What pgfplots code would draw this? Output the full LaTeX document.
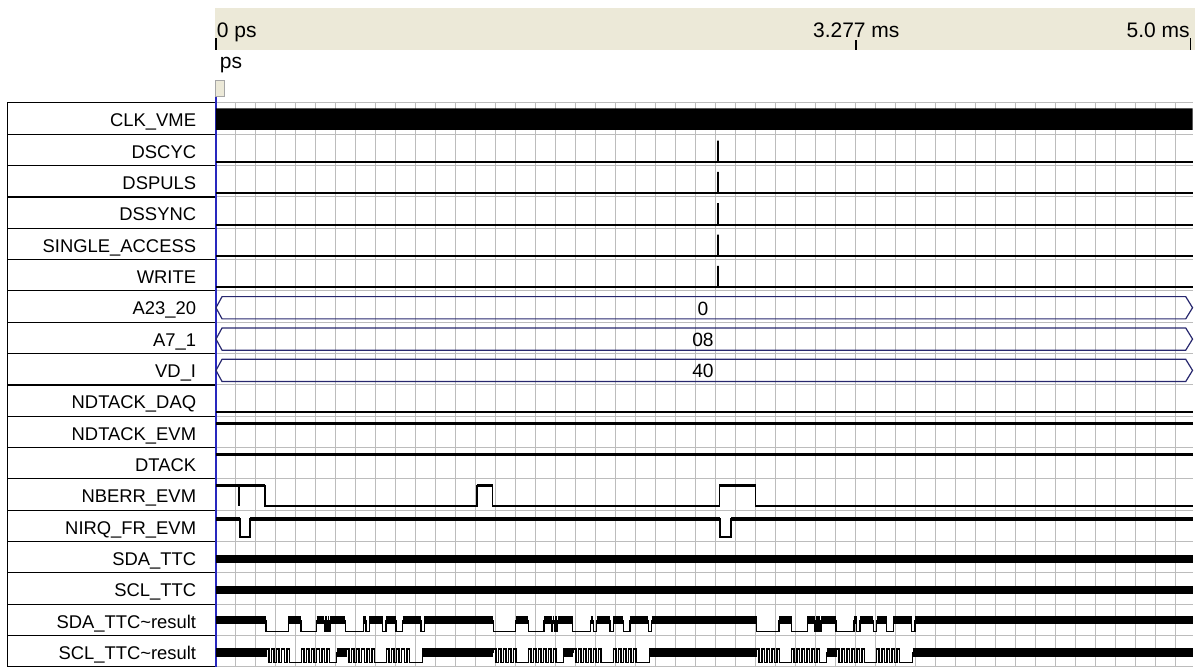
\documentclass[border=0pt]{standalone}
\usepackage{pgfplots}
\pgfplotsset{compat=1.18}
\usepackage{fontspec}
\setmainfont{Liberation Sans}
\definecolor{ruler}{RGB}{236,233,216}
\definecolor{busnavy}{RGB}{40,40,110}
\definecolor{leftblue}{RGB}{40,40,190}
\definecolor{gridgray}{RGB}{188,188,188}
\newcommand\lab{\fontsize{9.2}{11}\selectfont}
\newcommand\rul{\fontsize{10.5}{12}\selectfont}
\begin{document}
\begin{tikzpicture}
\begin{axis}[
  scale only axis, width=488.3pt, height=282pt,
  xmin=0, xmax=5.0, ymin=0, ymax=18,
  clip=false,
  axis line style={draw=none},
  tick style={draw=none},
  xtick={0,0.1024,...,4.95}, ytick={0,1,...,18},
  xticklabels={}, yticklabels={},
  grid=major, grid style={gridgray, line width=0.5pt},
  unbounded coords=jump,
  line cap=butt,
]
% ---- label panel
\fill[white] (axis cs:-1.065,0) rectangle (axis cs:-0.005,18);
\draw[black, line width=0.5pt] (axis cs:-1.065,0) rectangle (axis cs:-0.005,18);
\draw[black, line width=0.5pt]
  (axis cs:-1.065,1) -- (axis cs:-0.005,1) (axis cs:-1.065,2) -- (axis cs:-0.005,2)
  (axis cs:-1.065,3) -- (axis cs:-0.005,3) (axis cs:-1.065,4) -- (axis cs:-0.005,4)
  (axis cs:-1.065,5) -- (axis cs:-0.005,5) (axis cs:-1.065,6) -- (axis cs:-0.005,6)
  (axis cs:-1.065,7) -- (axis cs:-0.005,7) (axis cs:-1.065,8) -- (axis cs:-0.005,8)
  (axis cs:-1.065,10) -- (axis cs:-0.005,10) (axis cs:-1.065,11) -- (axis cs:-0.005,11)
  (axis cs:-1.065,12) -- (axis cs:-0.005,12) (axis cs:-1.065,13) -- (axis cs:-0.005,13)
  (axis cs:-1.065,14) -- (axis cs:-0.005,14) (axis cs:-1.065,16) -- (axis cs:-0.005,16)
  (axis cs:-1.065,17) -- (axis cs:-0.005,17);
\draw[black, line width=1pt] (axis cs:-1.065,9) -- (axis cs:-0.005,9) (axis cs:-1.065,15) -- (axis cs:-0.005,15);
\begin{scope}[every node/.style={anchor=base east, inner sep=0pt, font=\lab}]
\node at (axis cs:-0.0998,17.236) {CLK\_VME};
\node at (axis cs:-0.0998,16.236) {DSCYC};
\node at (axis cs:-0.0998,15.236) {DSPULS};
\node at (axis cs:-0.0998,14.236) {DSSYNC};
\node at (axis cs:-0.0998,13.236) {SINGLE\_ACCESS};
\node at (axis cs:-0.0998,12.236) {WRITE};
\node at (axis cs:-0.0998,11.236) {A23\_20};
\node at (axis cs:-0.0998,10.236) {A7\_1};
\node at (axis cs:-0.0998,9.236) {VD\_I};
\node at (axis cs:-0.0998,8.236) {NDTACK\_DAQ};
\node at (axis cs:-0.0998,7.236) {NDTACK\_EVM};
\node at (axis cs:-0.0998,6.236) {DTACK};
\node at (axis cs:-0.0998,5.236) {NBERR\_EVM};
\node at (axis cs:-0.0998,4.236) {NIRQ\_FR\_EVM};
\node at (axis cs:-0.0998,3.236) {SDA\_TTC};
\node at (axis cs:-0.0998,2.236) {SCL\_TTC};
\node at (axis cs:-0.0998,1.236) {SDA\_TTC\textasciitilde result};
\node at (axis cs:-0.0998,0.236) {SCL\_TTC\textasciitilde result};
\end{scope}
\draw[leftblue, line width=0.9pt] (axis cs:0,0) -- (axis cs:0,18.22);
% ---- time ruler
\fill[ruler] (axis cs:-0.005,19.692) rectangle (axis cs:5.0125,21.032);
\draw[black, line width=0.7pt] (axis cs:0,19.692) -- (axis cs:0,20.07)
  (axis cs:3.277,19.692) -- (axis cs:3.277,20.02)
  (axis cs:4.9905,19.692) -- (axis cs:4.9905,20.07);
\node[anchor=base west, inner sep=0pt, font=\rul] at (axis cs:0.003,20.097) {0 ps};
\node[anchor=base west, inner sep=0pt, font=\rul] at (axis cs:3.0551,20.097) {3.277 ms};
\node[anchor=base east, inner sep=0pt, font=\rul] at (axis cs:4.987,20.097) {5.0 ms};
\node[anchor=base west, inner sep=0pt, font=\rul] at (axis cs:0.018,19.108) {ps};
\filldraw[fill=ruler, draw=gray!70, line width=0.5pt] (axis cs:-0.003,18.20) rectangle (axis cs:0.041,18.73);
% ---- CLK_VME
\addplot[fill=black, draw=none] coordinates {(0,17.14) (5,17.14) (5,17.83) (0,17.83) (0,17.14)};
% ---- DSCYC .. WRITE
\addplot[black, line width=1pt] coordinates {(0,16.12) (2.572,16.12) (2.572,16.80) (2.572,16.12) (5,16.12)};
\addplot[black, line width=1pt] coordinates {(0,15.12) (2.572,15.12) (2.572,15.80) (2.572,15.12) (5,15.12)};
\addplot[black, line width=1pt] coordinates {(0,14.12) (2.572,14.12) (2.572,14.80) (2.572,14.12) (5,14.12)};
\addplot[black, line width=1pt] coordinates {(0,13.12) (2.572,13.12) (2.572,13.80) (2.572,13.12) (5,13.12)};
\addplot[black, line width=1pt] coordinates {(0,12.12) (2.572,12.12) (2.572,12.80) (2.572,12.12) (5,12.12)};
% ---- buses
\addplot[busnavy, line width=0.6pt] coordinates {(0,11.465) (0.031,11.82) (4.965,11.82) (5.0,11.465) (4.965,11.11) (0.031,11.11) (0,11.465)};
\addplot[busnavy, line width=0.6pt] coordinates {(0,10.465) (0.031,10.82) (4.965,10.82) (5.0,10.465) (4.965,10.11) (0.031,10.11) (0,10.465)};
\addplot[busnavy, line width=0.6pt] coordinates {(0,9.465) (0.031,9.82) (4.965,9.82) (5.0,9.465) (4.965,9.11) (0.031,9.11) (0,9.465)};
\node[anchor=base, inner sep=0pt, font=\fontsize{9.6}{11}\selectfont] at (axis cs:2.4934,11.23) {0};
\node[anchor=base, inner sep=0pt, font=\fontsize{9.6}{11}\selectfont] at (axis cs:2.4934,10.23) {08};
\node[anchor=base, inner sep=0pt, font=\fontsize{9.6}{11}\selectfont] at (axis cs:2.4934,9.23) {40};
% ---- NDTACK_DAQ, NDTACK_EVM, DTACK
\addplot[black, line width=1pt] coordinates {(0,8.15) (5,8.15)};
\addplot[black, line width=1.6pt] coordinates {(0,7.76) (5,7.76)};
\addplot[black, line width=1.6pt] coordinates {(0,6.77) (5,6.77)};
% ---- NBERR_EVM
\addplot[black, line width=0.6pt] coordinates {(0,5.78) (0.1178,5.78) (0.1178,5.14) (0.1178,5.78) (0.2509,5.78) (0.2509,5.14) (1.3363,5.14) (1.3363,5.78) (1.4167,5.78) (1.4167,5.14) (2.5769,5.14) (2.5769,5.78) (2.7633,5.78) (2.7633,5.14) (5,5.14)};
\addplot[black, line width=1.6pt] coordinates {(0,5.78) (0.2509,5.78) (0.2509,nan) (1.3363,5.78) (1.4167,5.78) (1.4167,nan) (2.5769,5.78) (2.7633,5.78)};
% ---- NIRQ_FR_EVM
\addplot[black, line width=0.9pt] coordinates {(0,4.72) (0.1229,4.72) (0.1229,4.14) (0.1741,4.14) (0.1741,4.72) (2.5805,4.72) (2.5805,4.14) (2.6368,4.14) (2.6368,4.72) (5,4.72)};
\addplot[black, line width=1.6pt] coordinates {(0,4.72) (0.1229,4.72) (0.1229,nan) (0.1741,4.72) (2.5805,4.72) (2.5805,nan) (2.6368,4.72) (5,4.72)};
% ---- SDA_TTC, SCL_TTC
\addplot[black, line width=4pt] coordinates {(0,3.456) (5,3.456)};
\addplot[black, line width=4pt] coordinates {(0,2.447) (5,2.447)};
% ---- SDA_TTC~result
\addplot[const plot, black, line width=0.7pt] coordinates {
(0,1.49) (0.256,1.13) (0.3712,1.49) (0.4352,1.13) (0.5156,1.49) (0.5550,1.13) (0.5601,1.49) (0.5683,1.13) (0.5734,1.49) (0.5806,1.13) (0.5857,1.49) (0.6630,1.13) (0.7547,1.49) (0.7680,1.13) (0.7854,1.49) (0.8535,1.13) (0.8704,1.49) (0.9216,1.13) (0.9559,1.49) (1.0496,1.13) (1.0670,1.49)
(1.4198,1.13) (1.5350,1.49) (1.5990,1.13) (1.6794,1.49) (1.7188,1.13) (1.7239,1.49) (1.7321,1.13) (1.7372,1.49) (1.7444,1.13) (1.7495,1.49) (1.8268,1.13) (1.9185,1.49) (1.9318,1.13) (1.9492,1.49) (2.0173,1.13) (2.0342,1.49) (2.0854,1.13) (2.1197,1.49) (2.2134,1.13) (2.2308,1.49)
(2.7674,1.13) (2.8826,1.49) (2.9466,1.13) (3.0270,1.49) (3.0664,1.13) (3.0715,1.49) (3.0797,1.13) (3.0848,1.49) (3.0920,1.13) (3.0971,1.49) (3.1744,1.13) (3.2661,1.49) (3.2794,1.13) (3.2968,1.49) (3.3649,1.13) (3.3818,1.49) (3.4330,1.13) (3.4673,1.49) (3.5610,1.13) (3.5784,1.49) (5.0,1.49)};
\addplot[black, line width=3.8pt] coordinates {
(0,1.49) (0.256,1.49) (0.256,nan) (0.3712,1.49) (0.4352,1.49) (0.4352,nan) (0.5156,1.49) (0.5550,1.49) (0.5550,nan) (0.5601,1.49) (0.5683,1.49) (0.5683,nan) (0.5734,1.49) (0.5806,1.49) (0.5806,nan) (0.5857,1.49) (0.6630,1.49) (0.6630,nan) (0.7547,1.49) (0.7680,1.49) (0.7680,nan) (0.7854,1.49) (0.8535,1.49) (0.8535,nan) (0.8704,1.49) (0.9216,1.49) (0.9216,nan) (0.9559,1.49) (1.0496,1.49) (1.0496,nan)
(1.0670,1.49) (1.4198,1.49) (1.4198,nan) (1.5350,1.49) (1.5990,1.49) (1.5990,nan) (1.6794,1.49) (1.7188,1.49) (1.7188,nan) (1.7239,1.49) (1.7321,1.49) (1.7321,nan) (1.7372,1.49) (1.7444,1.49) (1.7444,nan) (1.7495,1.49) (1.8268,1.49) (1.8268,nan) (1.9185,1.49) (1.9318,1.49) (1.9318,nan) (1.9492,1.49) (2.0173,1.49) (2.0173,nan) (2.0342,1.49) (2.0854,1.49) (2.0854,nan) (2.1197,1.49) (2.2134,1.49) (2.2134,nan)
(2.2308,1.49) (2.7674,1.49) (2.7674,nan) (2.8826,1.49) (2.9466,1.49) (2.9466,nan) (3.0270,1.49) (3.0664,1.49) (3.0664,nan) (3.0715,1.49) (3.0797,1.49) (3.0797,nan) (3.0848,1.49) (3.0920,1.49) (3.0920,nan) (3.0971,1.49) (3.1744,1.49) (3.1744,nan) (3.2661,1.49) (3.2794,1.49) (3.2794,nan) (3.2968,1.49) (3.3649,1.49) (3.3649,nan) (3.3818,1.49) (3.4330,1.49) (3.4330,nan) (3.4673,1.49) (3.5610,1.49) (3.5610,nan)
(3.5784,1.49) (5.0,1.49)};
% ---- SCL_TTC~result
\addplot[const plot, black, line width=0.75pt] coordinates {
(0,0.463)
(0.2586,0.574) (0.2716,0.137) (0.2846,0.574) (0.2976,0.137) (0.3106,0.574) (0.3236,0.137) (0.3366,0.574) (0.3496,0.137) (0.3626,0.574) (0.3756,0.137)
(0.4378,0.574) (0.4508,0.137) (0.4638,0.574) (0.4768,0.137) (0.4898,0.574) (0.5028,0.137) (0.5158,0.574) (0.5288,0.137) (0.5418,0.574) (0.5548,0.137) (0.5678,0.574) (0.5808,0.137)
(0.6170,0.463)
(0.6682,0.574) (0.6812,0.137) (0.6942,0.574) (0.7072,0.137) (0.7202,0.574) (0.7332,0.137) (0.7462,0.574) (0.7592,0.137) (0.7722,0.574) (0.7852,0.137) (0.7982,0.574) (0.8112,0.137)
(0.8730,0.574) (0.8860,0.137) (0.8990,0.574) (0.9120,0.137) (0.9250,0.574) (0.9380,0.137) (0.9510,0.574) (0.9640,0.137) (0.9770,0.574) (0.9900,0.137)
(1.0573,0.463)
(1.4198,0.574) (1.4328,0.137) (1.4458,0.574) (1.4588,0.137) (1.4718,0.574) (1.4848,0.137) (1.4978,0.574) (1.5108,0.137) (1.5238,0.574) (1.5368,0.137)
(1.5990,0.574) (1.6120,0.137) (1.6250,0.574) (1.6380,0.137) (1.6510,0.574) (1.6640,0.137) (1.6770,0.574) (1.6900,0.137) (1.7030,0.574) (1.7160,0.137) (1.7290,0.574) (1.7420,0.137)
(1.7782,0.463)
(1.8294,0.574) (1.8424,0.137) (1.8554,0.574) (1.8684,0.137) (1.8814,0.574) (1.8944,0.137) (1.9074,0.574) (1.9204,0.137) (1.9334,0.574) (1.9464,0.137) (1.9594,0.574) (1.9724,0.137)
(2.0342,0.574) (2.0472,0.137) (2.0602,0.574) (2.0732,0.137) (2.0862,0.574) (2.0992,0.137) (2.1122,0.574) (2.1252,0.137) (2.1382,0.574) (2.1512,0.137)
(2.2185,0.463)
(2.7684,0.574) (2.7814,0.137) (2.7944,0.574) (2.8074,0.137) (2.8204,0.574) (2.8334,0.137) (2.8464,0.574) (2.8594,0.137) (2.8724,0.574) (2.8854,0.137)
(2.9476,0.574) (2.9606,0.137) (2.9736,0.574) (2.9866,0.137) (2.9996,0.574) (3.0126,0.137) (3.0256,0.574) (3.0386,0.137) (3.0516,0.574) (3.0646,0.137) (3.0776,0.574) (3.0906,0.137)
(3.1268,0.463)
(3.1780,0.574) (3.1910,0.137) (3.2040,0.574) (3.2170,0.137) (3.2300,0.574) (3.2430,0.137) (3.2560,0.574) (3.2690,0.137) (3.2820,0.574) (3.2950,0.137) (3.3080,0.574) (3.3210,0.137)
(3.3828,0.574) (3.3958,0.137) (3.4088,0.574) (3.4218,0.137) (3.4348,0.574) (3.4478,0.137) (3.4608,0.574) (3.4738,0.137) (3.4868,0.574) (3.4998,0.137)
(3.5671,0.463) (5.0,0.463)};
\addplot[black, line width=4.1pt] coordinates {
(0,0.463) (0.2586,0.463) (0.2586,nan) (0.6170,0.463) (0.6682,0.463) (0.6682,nan) (1.0573,0.463) (1.4198,0.463) (1.4198,nan) (1.7782,0.463) (1.8294,0.463) (1.8294,nan) (2.2185,0.463) (2.7684,0.463) (2.7684,nan) (3.1268,0.463) (3.1780,0.463) (3.1780,nan) (3.5671,0.463) (5.0,0.463)};
\coordinate (bbA) at (axis cs:-1.1059,21.287);
\coordinate (bbB) at (axis cs:5.0125,-0.096);
\end{axis}
\pgfresetboundingbox
\path[use as bounding box] (bbA) rectangle (bbB);
\end{tikzpicture}
\end{document}
